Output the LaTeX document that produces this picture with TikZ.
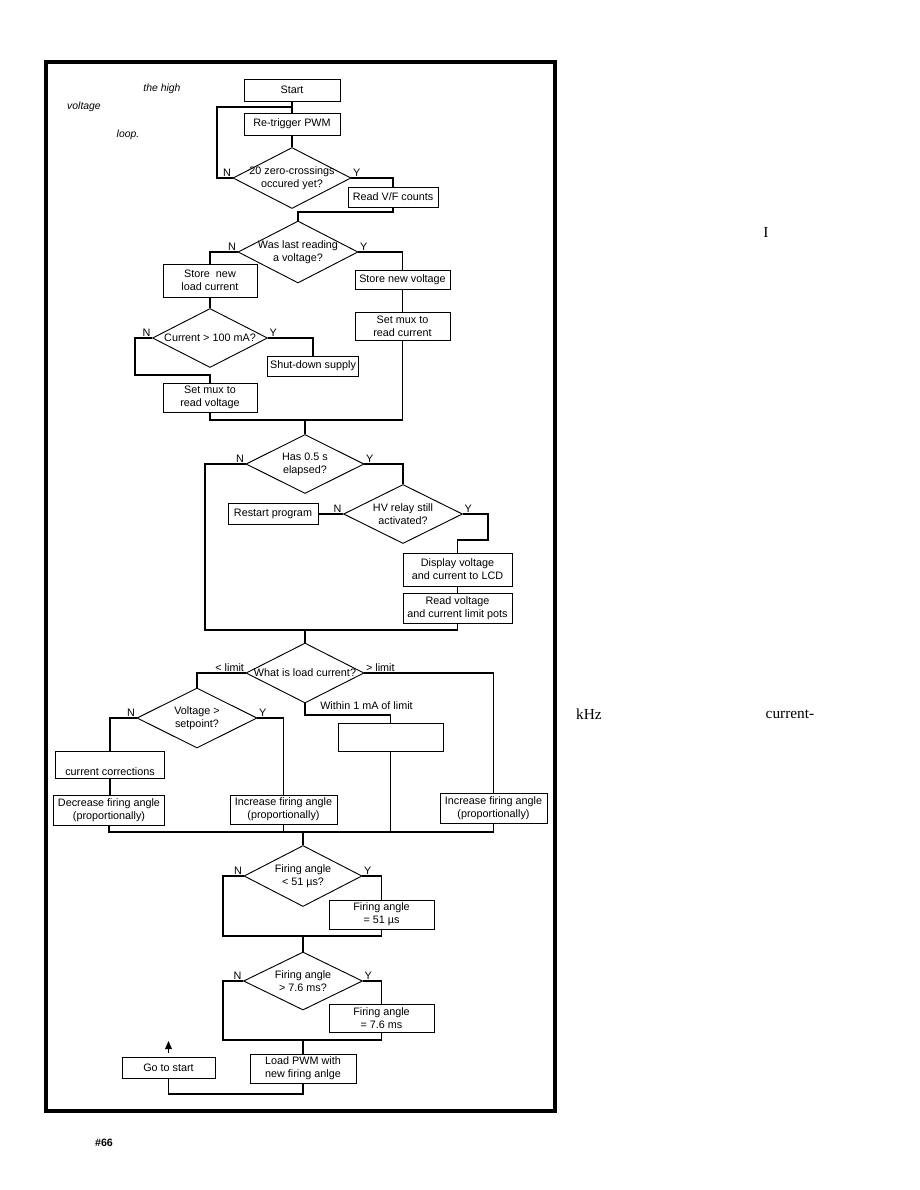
\documentclass[tikz,border=0pt]{standalone}
\usepackage{fontspec}
\setmainfont{Liberation Serif}
\setsansfont{Liberation Sans}
\usetikzlibrary{shapes.geometric,arrows.meta,calc}
\begin{document}
\begin{tikzpicture}[x=0.75pt,y=-0.75pt,
  every node/.style={font=\sffamily\fontsize{8.1}{9.6}\selectfont},
  bx/.style 2 args={draw, line width=0.7pt, rectangle, inner sep=0pt, align=center, minimum width=#1*0.75pt, minimum height=#2*0.75pt},
  dia/.style 2 args={draw, line width=0.7pt, diamond, inner sep=0pt, minimum width=#1*0.75pt, minimum height=#2*0.75pt},
  dt/.style={align=center, inner sep=0pt},
  ln/.style={line width=0.9pt},
  nl/.style={anchor=south east, inner sep=1pt},
  yl/.style={anchor=south west, inner sep=1pt},
  ital/.style={font=\sffamily\itshape\fontsize{7.8}{9}\selectfont},
  serif/.style={font=\rmfamily\fontsize{11.5}{13}\selectfont}
]
\useasboundingbox (0,0) rectangle (920,1190);
% frame
\draw[line width=3pt] (46,62) rectangle (555,1111);

% side texts
\node[ital] (t1) at (162,89) {the high};
\node[ital] (t2) at (84,107) {voltage};
\node[ital] (t3) at (128,135) {loop.};
\node[font=\sffamily\bfseries\fontsize{8}{9}\selectfont] (t4) at (104,1143) {\#66};
\node[serif] (t5) at (766,232) {I};
\node[serif] (t6) at (589,714) {kHz};
\node[serif] (t7) at (790,714) {current-};

% nodes
\node[bx={96}{22}] (start) at (292,90) {Start};
\node[bx={96}{22}] (retrig) at (292,124) {Re-trigger PWM};
\coordinate (lp) at (217,107);
\coordinate (j1) at (292,107);
\node[dia={118}{61}, label={[dt]center:{20 zero-crossings\\occured yet?}}, label={[nl]west:N}, label={[yl]east:Y}] (d1) at (292,178) {};
\node[bx={90}{20}] (readvf) at (393,197) {Read V/F counts};
\coordinate (j2) at (298,212);
\node[dia={120}{62}, label={[dt]center:{Was last reading\\a voltage?}}, label={[nl]west:N}, label={[yl]east:Y}] (d2) at (298,252) {};
\node[bx={94}{33}] (storeI) at (210,280.5) {Store~ new\\load current};
\node[bx={95}{19}] (storeV) at (402.5,279.5) {Store new voltage};
\node[bx={95}{28}] (muxI) at (402.5,326) {Set mux to\\read current};
\node[dia={115}{59}, label={[dt]center:{Current > 100 mA?}}, label={[nl]west:N}, label={[yl]east:Y}] (dcur) at (210,338) {};
\node[bx={91}{20}] (shut) at (313,366) {Shut-down supply};
\coordinate (c135) at (135,375);
\node[bx={94}{29}] (muxV) at (210,397.5) {Set mux to\\read voltage};
\coordinate (j3) at (305,420);
\node[dia={118}{59}, label={[dt]center:{Has 0.5 s\\elapsed?}}, label={[nl]west:N}, label={[yl]east:Y}] (d3) at (305,464) {};
\node[dia={119}{59}, label={[dt]center:{HV relay still\\activated?}}, label={[nl]west:N}, label={[yl]east:Y}] (d4) at (403,514) {};
\node[bx={90}{21}] (restart) at (273,514) {Restart program};
\coordinate (c488) at (488,540);
\node[bx={109}{33}] (disp) at (457.5,569.5) {Display voltage\\and current to LCD};
\node[bx={109}{30}] (pots) at (457.5,608) {Read voltage\\and current limit pots};
\coordinate (c205) at (205,630);
\coordinate (j4) at (305,630);
\node[dia={118}{60}, label={[dt]center:{What is load current?}}, label={[nl]west:{< limit}}, label={[yl]east:{> limit}}] (d5) at (305,673) {};
\node[anchor=west, inner sep=0pt] (within) at (320,706) {Within 1 mA of limit};
\coordinate (w1) at (390.5,715);
\node[bx={105}{28}] (empty) at (390.5,737) {};
\node[dia={120}{60}, label={[dt]center:{Voltage >\\setpoint?}}, label={[nl]west:N}, label={[yl]east:Y}] (d6) at (197,718) {};
\node[bx={109}{27}] (corr) at (110,764.5) {\strut\\current corrections};
\node[bx={111}{30}] (dec) at (109,810) {Decrease firing angle\\(proportionally)};
\node[bx={107}{29}] (incM) at (283.5,809.5) {Increase firing angle\\(proportionally)};
\node[bx={107}{30}] (incR) at (493.5,808) {Increase firing angle\\(proportionally)};
\coordinate (j5) at (303,832);
\node[dia={118}{61}, label={[dt]center:{Firing angle\\< 51 µs?}}, label={[nl]west:N}, label={[yl]east:Y}] (d7) at (303,876) {};
\node[bx={105}{29}] (fa51) at (381.5,914.5) {Firing angle\\= 51 µs};
\coordinate (c223a) at (223,936);
\coordinate (j6) at (303,936);
\node[dia={119}{58}, label={[dt]center:{Firing angle\\> 7.6 ms?}}, label={[nl]west:N}, label={[yl]east:Y}] (d8) at (303,981) {};
\node[bx={105}{28}] (fa76) at (381.5,1018) {Firing angle\\= 7.6 ms};
\coordinate (c223b) at (223,1040);
\coordinate (j7) at (303,1040);
\node[bx={106}{29}] (loadpwm) at (303,1068.5) {Load PWM with\\new firing anlge};
\node[bx={93}{21}] (gostart) at (168.5,1067.5) {Go to start};
\coordinate (b1) at (168.5,1094);
\coordinate (a1) at (168.5,1053);
\coordinate (a2) at (168.5,1041);

% connectors
\draw[ln] (start) -- (retrig);
\draw[ln] (d1.west) -| (lp) -- (j1);
\draw[ln] (retrig) -- (d1);
\draw[ln] (d1.east) -| (readvf.north);
\draw[ln] (readvf.south) |- (j2) -- (d2.north);
\draw[ln] (d2.west) -| (storeI.north);
\draw[ln] (d2.east) -| (storeV.north);
\draw[ln] (storeV) -- (muxI);
\draw[ln] (storeI) -- (dcur);
\draw[ln] (dcur.east) -| (shut.north);
\draw[ln] (dcur.west) -| (c135) -| (muxV.north);
\draw[ln] (muxI.south) |- (j3);
\draw[ln] (muxV.south) |- (j3);
\draw[ln] (j3) -- (d3.north);
\draw[ln] (d3.east) -| (d4.north);
\draw[ln] (d4.west) -- (restart.east);
\draw[ln] (d4.east) -| (c488) -| (disp.north);
\draw[ln] (disp) -- (pots);
\draw[ln] (d3.west) -| (c205) -- (j4);
\draw[ln] (pots.south) |- (j4);
\draw[ln] (j4) -- (d5.north);
\draw[ln] (d5.west) -| (d6.north);
\draw[ln] (d5.east) -| (incR.north);
\draw[ln] (d5.south) |- (w1) -- (empty.north);
\draw[ln] (d6.west) -| (corr.north);
\draw[ln] (d6.east) -| (incM.north);
\draw[ln] (corr.south) -- (corr.south |- dec.north);
\draw[ln] (dec.south) |- (j5);
\draw[ln] (incR.south) |- (j5);
\draw[ln] (incM.south) -- (incM.south |- j5);
\draw[ln] (empty.south) -- (empty.south |- j5);
\draw[ln] (j5) -- (d7.north);
\draw[ln] (d7.east) -| (fa51.north);
\draw[ln] (d7.west) -| (c223a) -- (j6);
\draw[ln] (fa51.south) |- (j6);
\draw[ln] (j6) -- (d8.north);
\draw[ln] (d8.east) -| (fa76.north);
\draw[ln] (d8.west) -| (c223b) -- (j7);
\draw[ln] (fa76.south) |- (j7);
\draw[ln] (j7) -- (loadpwm.north);
\draw[ln] (loadpwm.south) |- (b1) -- (gostart.south);
\draw[ln,-{Triangle[length=6pt,width=5pt]}] (a1) -- (a2);
\end{tikzpicture}
\end{document}
